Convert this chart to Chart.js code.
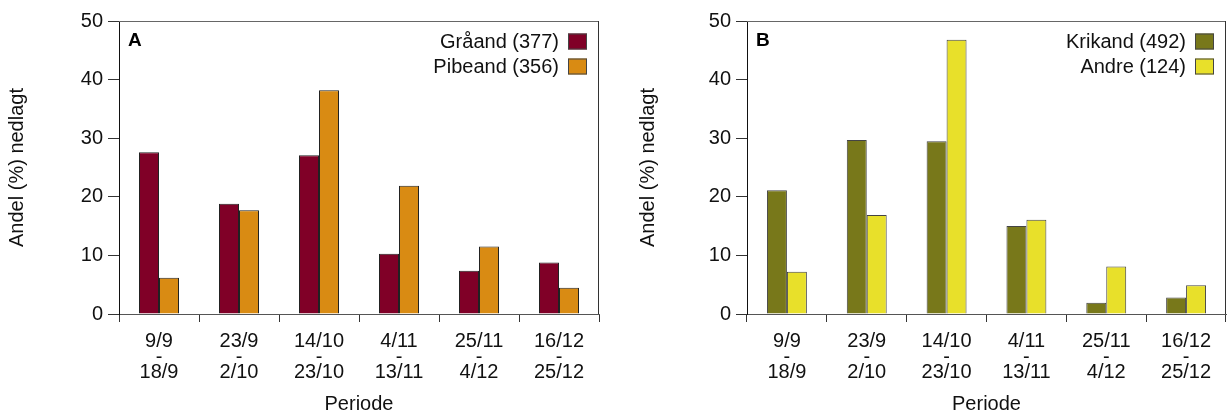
<!DOCTYPE html>
<html>
<head>
<meta charset="utf-8">
<script src="https://cdn.jsdelivr.net/npm/chart.js@4"></script>
<style>
  html, body { margin: 0; padding: 0; background: #fff; }
  body { width: 1229px; height: 415px; position: relative; overflow: hidden; }
  .panel { position: absolute; top: 0; height: 415px; }
  #pa { left: 0; width: 614px; }
  #pb { left: 628px; width: 601px; }
</style>
</head>
<body>
<div class="panel" id="pa"><canvas id="ca"></canvas></div>
<div class="panel" id="pb"><canvas id="cb"></canvas></div>
<script>
// ---- data ----
const periods = [
  ['9/9', '-', '18/9'],
  ['23/9', '-', '2/10'],
  ['14/10', '-', '23/10'],
  ['4/11', '-', '13/11'],
  ['25/11', '-', '4/12'],
  ['16/12', '-', '25/12']
];
const graaand = [27.6, 18.8, 27.1, 10.3, 7.4, 8.8];
const pibeand = [6.2, 17.7, 38.2, 21.9, 11.5, 4.5];
const krikand = [21.1, 29.7, 29.5, 15.0, 1.9, 2.8];
const andre   = [7.2, 16.9, 46.8, 16.1, 8.1, 4.9];
const labelsA = ['Gråand (377)', 'Pibeand (356)'];
const labelsB = ['Krikand (492)', 'Andre (124)'];
const yAxisTitle = 'Andel (%) nedlagt';
const xAxisTitle = 'Periode';

Chart.defaults.font.family = "'Liberation Sans', Arial, Helvetica, sans-serif";
Chart.defaults.color = '#111';

const framePlugin = {
  id: 'frame',
  afterDraw(chart, args, opts) {
    const {ctx, chartArea: a} = chart;
    ctx.save();
    // top and right frame
    ctx.lineWidth = 1;
    ctx.strokeStyle = '#666';
    ctx.beginPath();
    ctx.moveTo(a.left, a.top + 0.5);
    ctx.lineTo(a.right, a.top + 0.5);
    ctx.stroke();
    ctx.strokeStyle = '#333';
    ctx.beginPath();
    ctx.moveTo(a.right - 0.5, a.top);
    ctx.lineTo(a.right - 0.5, a.bottom);
    ctx.stroke();
    // panel letter
    ctx.fillStyle = '#000';
    ctx.font = "bold 19px 'Liberation Sans', Arial, sans-serif";
    ctx.textAlign = 'left';
    ctx.textBaseline = 'middle';
    ctx.fillText(opts.letter, a.left + 9, a.top + 20);
    // legend (text left of box, right aligned)
    ctx.font = "20px 'Liberation Sans', Arial, sans-serif";
    ctx.textAlign = 'right';
    chart.data.datasets.forEach((ds, i) => {
      const cy = a.top + 20.5 + i * 25;
      const bx = a.right - 12 - 19;
      ctx.fillStyle = ds.backgroundColor;
      ctx.fillRect(bx, cy - 8, 19, 16);
      ctx.strokeStyle = '#444';
      ctx.strokeRect(bx + 0.5, cy - 7.5, 18, 15);
      ctx.fillStyle = '#111';
      ctx.fillText(ds.label, bx - 9, cy + 1);
    });
    ctx.restore();
  }
};

function makeChart(id, letter, labels, d1, d2, c1, c2, border, padRight, titlePad) {
  return new Chart(document.getElementById(id), {
    type: 'bar',
    data: {
      labels: periods,
      datasets: [
        { label: labels[0], data: d1, backgroundColor: c1, borderColor: border, borderWidth: 1,
          categoryPercentage: 0.5, barPercentage: 1.0 },
        { label: labels[1], data: d2, backgroundColor: c2, borderColor: border, borderWidth: 1,
          categoryPercentage: 0.5, barPercentage: 1.0 }
      ]
    },
    options: {
      responsive: true,
      maintainAspectRatio: false,
      animation: false,
      events: [],
      layout: { padding: { top: 21, right: padRight, left: 0, bottom: 0 } },
      plugins: {
        legend: { display: false },
        tooltip: { enabled: false },
        frame: { letter: letter }
      },
      scales: {
        x: {
          offset: true,
          afterFit: (s) => { s.height = 101; },
          grid: { offset: true, drawOnChartArea: false, tickLength: 8, color: '#333' },
          border: { color: '#555', width: 1 },
          ticks: {
            autoSkip: false, maxRotation: 0, minRotation: 0, padding: 12,
            color: '#111',
            font: { size: 20, lineHeight: '15.5px' }
          },
          title: {
            display: true, text: xAxisTitle, color: '#111',
            font: { size: 20 }, padding: { top: 0, bottom: -1 }
          }
        },
        y: {
          min: 0, max: 50,
          afterFit: (s) => { s.width = 119; },
          grid: { drawOnChartArea: false, tickLength: 11, color: '#333' },
          border: { color: '#111', width: 1 },
          ticks: { stepSize: 10, padding: 5, color: '#111', font: { size: 20 } },
          title: {
            display: true, text: yAxisTitle, color: '#111',
            font: { size: 20 }, padding: { top: titlePad, bottom: 0 }
          }
        }
      }
    },
    plugins: [framePlugin]
  });
}

makeChart('ca', 'A', labelsA, graaand, pibeand, '#800027', '#D98B13', '#222', 15, 5);
makeChart('cb', 'B', labelsB, krikand, andre, '#78781A', '#E8E02A', '#444', 3, 8);
</script>
</body>
</html>
